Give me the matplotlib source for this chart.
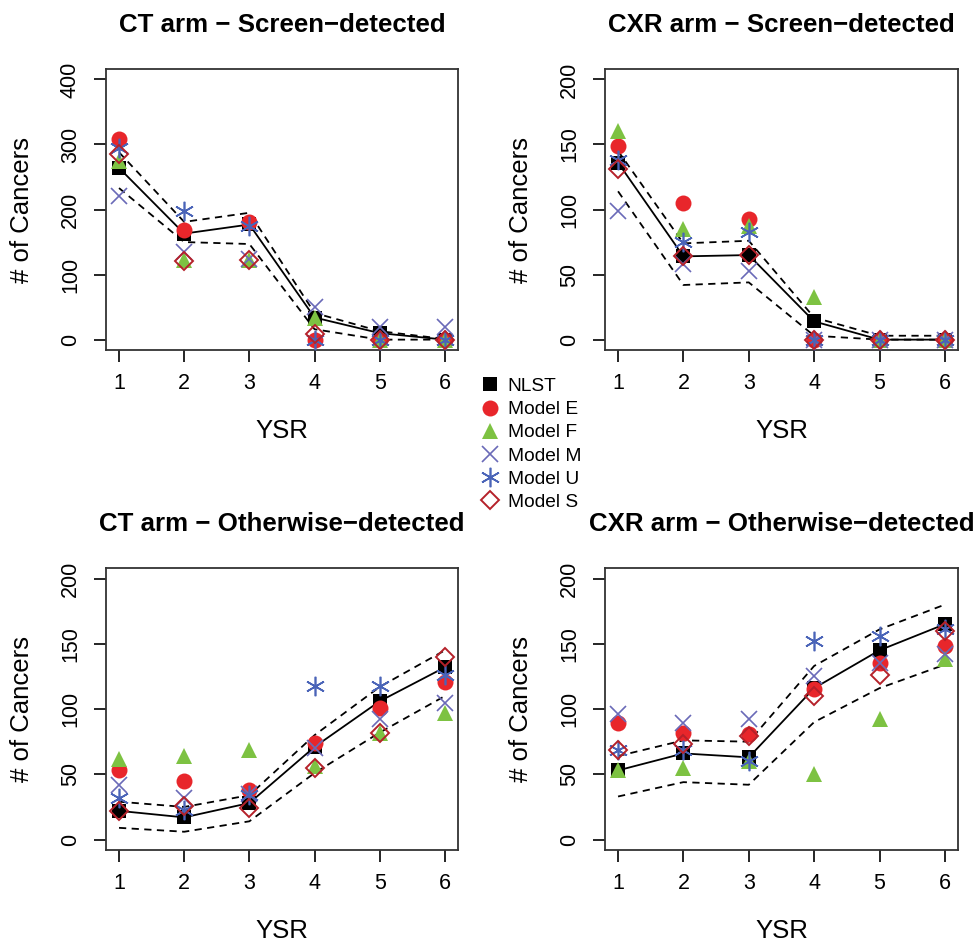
import matplotlib
matplotlib.use("Agg")
import matplotlib.pyplot as plt
from matplotlib.lines import Line2D

plt.rcParams['font.family'] = ['Liberation Sans', 'DejaVu Sans']

ysr = [1, 2, 3, 4, 5, 6]

# CT arm - screen-detected
ct_scr_nlst = [264, 163, 177, 34, 10, 0]
ct_scr_hi = [288, 181, 195, 41, 13, 1]
ct_scr_lo = [233, 150, 147, 16, 0, 0]
ct_scr_E = [308, 169, 181, 0, 0, 0]
ct_scr_F = [275, 122, 122, 33, 0, 0]
ct_scr_M = [221, 134, 124, 50, 20, 20]
ct_scr_U = [295, 197, 174, 0, 0, 0]
ct_scr_S = [285, 121, 122, 8, 0, 0]

# CXR arm - screen-detected
cxr_scr_nlst = [136, 64, 65, 14, 0, 0]
cxr_scr_hi = [145, 74, 76, 17, 3, 3]
cxr_scr_lo = [114, 42, 44, 3, 0, 0]
cxr_scr_E = [149, 105, 93, 0, 0, 0]
cxr_scr_F = [160, 85, 87, 33, 0, 0]
cxr_scr_M = [99, 58, 53, 0, 0, 0]
cxr_scr_U = [138, 75, 83, 0, 0, 0]
cxr_scr_S = [131, 64, 65, 0, 0, 0]

# CT arm - otherwise-detected
ct_oth_nlst = [22, 17, 28, 71, 106, 132]
ct_oth_hi = [29, 25, 34, 80, 117, 145]
ct_oth_lo = [9, 6, 14, 51, 82, 110]
ct_oth_E = [53, 45, 38, 74, 101, 121]
ct_oth_F = [62, 64, 69, 56, 82, 97]
ct_oth_M = [42, 32, 35, 70, 92, 105]
ct_oth_U = [32, 23, 34, 118, 118, 126]
ct_oth_S = [22, 26, 24, 55, 82, 140]

# CXR arm - otherwise-detected
cxr_oth_nlst = [53, 66, 63, 116, 145, 165]
cxr_oth_hi = [64, 76, 75, 133, 161, 180]
cxr_oth_lo = [33, 44, 42, 90, 116, 134]
cxr_oth_E = [89, 82, 81, 115, 135, 148]
cxr_oth_F = [53, 55, 60, 50, 92, 138]
cxr_oth_M = [96, 89, 92, 125, 135, 142]
cxr_oth_U = [69, 69, 60, 152, 156, 161]
cxr_oth_S = [69, 73, 79, 110, 126, 160]

models = ["NLST", "Model E", "Model F", "Model M", "Model U", "Model S"]
styles = {
    "NLST": dict(marker='s', color='black', ms=9.5, mfc='black', mew=0),
    "Model E": dict(marker='o', color='#e8262b', ms=11.5, mfc='#e8262b', mew=0),
    "Model F": dict(marker='^', color='#7dc242', ms=12, mfc='#7dc242', mew=0),
    "Model M": dict(marker='x', color='#6a6ab8', ms=11, mew=1.2),
    "Model U": dict(marker=(6, 2, 0), color='#4a64b8', ms=14, mew=1.2),
    "Model S": dict(marker='D', color='#b5212a', ms=9, mfc='none', mew=1.4),
}

panels = [
    ("CT arm \u2212 Screen\u2212detected", [0.1087, 0.6288, 0.361, 0.298], 400, 100,
     ct_scr_nlst, ct_scr_hi, ct_scr_lo, [ct_scr_E, ct_scr_F, ct_scr_M, ct_scr_U, ct_scr_S]),
    ("CXR arm \u2212 Screen\u2212detected", [0.6205, 0.6288, 0.362, 0.298], 200, 50,
     cxr_scr_nlst, cxr_scr_hi, cxr_scr_lo, [cxr_scr_E, cxr_scr_F, cxr_scr_M, cxr_scr_U, cxr_scr_S]),
    ("CT arm \u2212 Otherwise\u2212detected", [0.1087, 0.0986, 0.361, 0.299], 200, 50,
     ct_oth_nlst, ct_oth_hi, ct_oth_lo, [ct_oth_E, ct_oth_F, ct_oth_M, ct_oth_U, ct_oth_S]),
    ("CXR arm \u2212 Otherwise\u2212detected", [0.6205, 0.0986, 0.362, 0.299], 200, 50,
     cxr_oth_nlst, cxr_oth_hi, cxr_oth_lo, [cxr_oth_E, cxr_oth_F, cxr_oth_M, cxr_oth_U, cxr_oth_S]),
]

fig = plt.figure(figsize=(9.75, 9.43), dpi=100)

for title, pos, ymax, step, nlst, hi, lo, others in panels:
    ax = fig.add_axes(pos)
    ax.plot(ysr, nlst, color='black', lw=1.3, zorder=2)
    ax.plot(ysr, hi, color='black', lw=1.3, ls=(0, (4, 3)), zorder=2)
    ax.plot(ysr, lo, color='black', lw=1.3, ls=(0, (4, 3)), zorder=2)
    ax.plot(ysr, nlst, ls='none', zorder=3, **styles["NLST"])
    for name, vals in zip(models[1:], others):
        ax.plot(ysr, vals, ls='none', zorder=3, **styles[name])
    ax.set_xlim(0.8, 6.2)
    ax.set_ylim(-0.04 * ymax, 1.04 * ymax)
    ax.set_xticks(ysr)
    ax.set_yticks(range(0, ymax + 1, step))
    ax.tick_params(direction='out', length=8.5, width=1.2, labelsize=15.5)
    ax.tick_params(axis='x', pad=8)
    ax.tick_params(axis='y', pad=9.5)
    for lab in ax.get_yticklabels():
        lab.set_rotation(90)
        lab.set_va('center')
    for sp in ax.spines.values():
        sp.set_linewidth(1.3)
        sp.set_color('#333333')
    ax.set_title(title, fontsize=18.6, fontweight='bold', pad=27)
    ax.set_xlabel("YSR", fontsize=18.5, labelpad=18)
    ax.set_ylabel("# of Cancers", fontsize=18.5, labelpad=19)

handles = [Line2D([], [], ls='none', **styles[m]) for m in models]
fig.legend(handles, models, loc='upper left', bbox_to_anchor=(475 / 975, 1 - 370 / 943),
           frameon=False, handlelength=0.8, handletextpad=0.5, labelspacing=0.3,
           fontsize=13.8, borderaxespad=0)

fig.savefig("out.png", dpi=100)
